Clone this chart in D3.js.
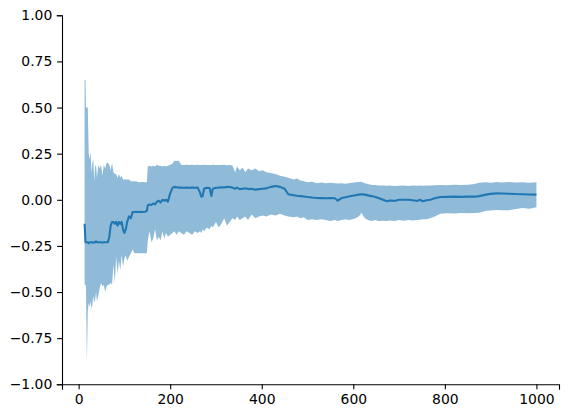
<!DOCTYPE html>
<html>
<head>
<meta charset="utf-8">
<script src="https://cdn.jsdelivr.net/npm/d3@7"></script>
<style>
  body { margin: 0; background: #fff; }
  .axes text { font-family: "DejaVu Sans", sans-serif; font-size: 13.9px; fill: #000; }
  .axes path, .axes line { stroke: #000; stroke-width: 1.1; }
</style>
</head>
<body>
<div id="canvas"></div>
<script>
// DATA
const steps = [13, 15, 16, 18, 20, 22, 24, 26, 28, 30, 32, 34, 36, 38, 40, 43, 46, 49, 52, 55,
  58, 61, 64, 67, 70, 73, 76, 79, 82, 85, 88, 91, 94, 97, 100, 103, 106, 110, 114, 118,
  122, 126, 130, 135, 140, 145, 149,
  151, 155, 159, 163, 167, 171, 175, 179, 183, 187, 191, 195, 200, 205, 209, 214, 219, 224, 230, 236,
  242, 248, 254, 260, 265, 268, 271, 274, 280, 286, 290, 293, 300, 306, 312, 318, 324, 330, 336, 342,
  346, 352, 358, 364, 370, 378, 386, 394, 402, 410, 420, 430, 440, 450, 458,
  470, 477, 484, 492, 500, 510, 520, 530, 540, 550, 560, 566, 575, 583, 590, 598, 605, 612, 618, 625,
  632, 640, 648, 655, 665, 673, 680, 690, 700, 710, 720, 730, 740, 745, 752, 760, 768, 778, 790, 805,
  820, 835, 850, 865, 875, 890, 900, 913, 925, 940, 955, 970, 985, 1000];

const meanValues = [-0.13, -0.23, -0.23, -0.23, -0.23, -0.235, -0.23, -0.23, -0.23, -0.232, -0.23, -0.232, -0.23, -0.225, -0.23, -0.23, -0.23, -0.23, -0.232, -0.23,
  -0.23, -0.23, -0.23, -0.2, -0.14, -0.12, -0.12, -0.13, -0.12, -0.14, -0.12, -0.13, -0.12, -0.16, -0.18, -0.16, -0.12, -0.09, -0.1, -0.066,
  -0.066, -0.065, -0.066, -0.065, -0.066, -0.065, -0.06,
  -0.03, -0.025, -0.028, -0.02, -0.025, -0.01, -0.005, -0.015, 0.0, -0.005, 0.0, -0.01, 0.035, 0.065, 0.07, 0.068, 0.066, 0.067, 0.065, 0.066,
  0.065, 0.066, 0.065, 0.066, 0.04, 0.017, 0.02, 0.06, 0.065, 0.064, 0.02, 0.06, 0.065, 0.066, 0.068, 0.067, 0.07, 0.069, 0.066, 0.06,
  0.066, 0.058, 0.06, 0.062, 0.058, 0.06, 0.055, 0.058, 0.06, 0.062, 0.07, 0.075, 0.07, 0.06, 0.03,
  0.025, 0.022, 0.02, 0.018, 0.015, 0.012, 0.01, 0.009, 0.008, 0.009, 0.008, -0.005, 0.01, 0.014, 0.018, 0.022, 0.025, 0.028, 0.03, 0.028,
  0.024, 0.02, 0.015, 0.01, 0.0, -0.008, -0.004, -0.006, 0.0, 0.0, 0.0, -0.002, -0.006, 0.0, -0.008, -0.002, 0.0, 0.008, 0.015, 0.016,
  0.017, 0.016, 0.017, 0.017, 0.02, 0.028, 0.032, 0.035, 0.034, 0.033, 0.031, 0.03, 0.029, 0.028];

const lowerValues = [-0.46, -0.46, -0.47, -0.88, -0.6, -0.56, -0.58, -0.55, -0.59, -0.57, -0.52, -0.56, -0.54, -0.5, -0.55, -0.52, -0.48, -0.45, -0.47, -0.46,
  -0.5, -0.47, -0.46, -0.46, -0.45, -0.46, -0.35, -0.45, -0.31, -0.4, -0.33, -0.38, -0.3, -0.36, -0.32, -0.3, -0.33, -0.31, -0.29, -0.27,
  -0.29, -0.29, -0.29, -0.29, -0.29, -0.29, -0.29,
  -0.22, -0.17, -0.23, -0.21, -0.16, -0.22, -0.2, -0.22, -0.17, -0.21, -0.18, -0.2, -0.19, -0.18, -0.17, -0.19, -0.17, -0.18, -0.19, -0.17,
  -0.18, -0.19, -0.17, -0.18, -0.17, -0.18, -0.16, -0.17, -0.15, -0.16, -0.14, -0.15, -0.12, -0.15, -0.13, -0.1, -0.14, -0.12, -0.1, -0.11,
  -0.09, -0.11, -0.1, -0.09, -0.11, -0.08, -0.1, -0.09, -0.085, -0.09, -0.08, -0.085, -0.075, -0.085, -0.09,
  -0.095, -0.09, -0.1, -0.095, -0.11, -0.105, -0.11, -0.105, -0.11, -0.115, -0.11, -0.115, -0.11, -0.105, -0.11, -0.105, -0.1, -0.09, -0.07, -0.1,
  -0.11, -0.115, -0.11, -0.115, -0.113, -0.115, -0.112, -0.115, -0.11, -0.113, -0.11, -0.112, -0.11, -0.108, -0.106, -0.105, -0.1, -0.09, -0.075, -0.073,
  -0.074, -0.072, -0.073, -0.071, -0.07, -0.06, -0.058, -0.055, -0.057, -0.056, -0.05, -0.045, -0.048, -0.04];

const upperValues = [0.65, 0.65, 0.5, 0.5, 0.5, 0.25, 0.22, 0.26, 0.15, 0.2, 0.22, 0.1, 0.18, 0.19, 0.12, 0.19, 0.17, 0.19, 0.13, 0.19,
  0.17, 0.2, 0.2, 0.19, 0.16, 0.2, 0.15, 0.14, 0.14, 0.12, 0.14, 0.12, 0.13, 0.11, 0.11, 0.11, 0.11, 0.11, 0.1, 0.1,
  0.1, 0.1, 0.095, 0.095, 0.097, 0.095, 0.095,
  0.18, 0.185, 0.18, 0.185, 0.18, 0.19, 0.185, 0.185, 0.18, 0.185, 0.18, 0.185, 0.19, 0.195, 0.212, 0.21, 0.212, 0.19, 0.188, 0.19,
  0.188, 0.19, 0.189, 0.19, 0.188, 0.189, 0.188, 0.19, 0.188, 0.189, 0.188, 0.19, 0.188, 0.189, 0.188, 0.19, 0.187, 0.188, 0.186, 0.15,
  0.18, 0.16, 0.175, 0.15, 0.17, 0.16, 0.17, 0.155, 0.16, 0.15, 0.145, 0.14, 0.13, 0.125, 0.12,
  0.11, 0.115, 0.105, 0.1, 0.095, 0.098, 0.09, 0.094, 0.09, 0.092, 0.09, 0.088, 0.09, 0.087, 0.09, 0.092, 0.095, 0.097, 0.098, 0.09,
  0.085, 0.08, 0.08, 0.078, 0.077, 0.076, 0.078, 0.075, 0.076, 0.077, 0.075, 0.077, 0.076, 0.077, 0.076, 0.077, 0.078, 0.079, 0.08, 0.079,
  0.081, 0.08, 0.082, 0.085, 0.092, 0.095, 0.093, 0.097, 0.094, 0.096, 0.094, 0.095, 0.093, 0.095];

const xTicks = [0, 200, 400, 600, 800, 1000];
const yTicks = [-1.0, -0.75, -0.5, -0.25, 0.0, 0.25, 0.5, 0.75, 1.0];

function drawGraph(data) {

  // DIMENSIONS
  const width = 568;
  const height = 418;

  const margin = { top: 15.3, bottom: 33.7, left: 62, right: 9 };

  const plot_height = height - margin.top - margin.bottom;
  const plot_width = width - margin.left - margin.right;

  // CANVAS AND PLOT
  const canvas = d3.select('#canvas')
    .append('svg')
    .attr('height', height)
    .attr('width', width)

  const plot = canvas.append('g')
    .attr("transform", "translate(" + margin.left + "," + margin.top + ")")

  // SCALES (matplotlib style 5% margin on x)
  const xmin = d3.min(data, d => d.step);
  const xmax = d3.max(data, d => d.step);
  const pad = (xmax - xmin) * 0.05;

  let scaleX = d3.scaleLinear([xmin - pad, xmax + pad], [0, plot_width]);
  let scaleY = d3.scaleLinear([-1, 1], [plot_height, 0]);

  // BAND
  let band = d3.area()
    .x(d => scaleX(d.step))
    .y0(d => scaleY(d.lo))
    .y1(d => scaleY(d.hi));

  plot.append('path')
    .datum(data)
    .attr('d', band)
    .attr('fill', '#1f77b4')
    .attr('fill-opacity', 0.5);

  // MEAN LINE
  let line = d3.line()
    .x(d => scaleX(d.step))
    .y(d => scaleY(d.mean));

  plot.append('path')
    .datum(data)
    .attr('d', line)
    .attr('fill', 'none')
    .attr('stroke', '#1f77b4')
    .attr('stroke-width', 2.08)
    .attr('stroke-linejoin', 'round');

  // AXES
  let xAx = d3.axisBottom(scaleX).tickValues(xTicks).tickFormat(d3.format("d"));
  let yAx = d3.axisLeft(scaleY).tickValues(yTicks).tickFormat(d3.format(".2f"));

  plot.append("g")
    .attr("transform", `translate(0, ${plot_height})`)
    .attr("class", "axes")
    .call(xAx.tickSizeOuter(0).tickSize(4.86).tickPadding(4.86));

  plot.append("g")
    .attr("class", "axes")
    .call(yAx.tickSizeOuter(0).tickSize(4.86).tickPadding(4.86));

  canvas.selectAll(".axes .domain").attr("stroke-linecap", "square");
}

function draw() {
  let data = steps.map((s, i) => ({
    step: s,
    mean: meanValues[i],
    lo: lowerValues[i],
    hi: upperValues[i]
  }));
  drawGraph(data);
}

draw();
</script>
</body>
</html>
